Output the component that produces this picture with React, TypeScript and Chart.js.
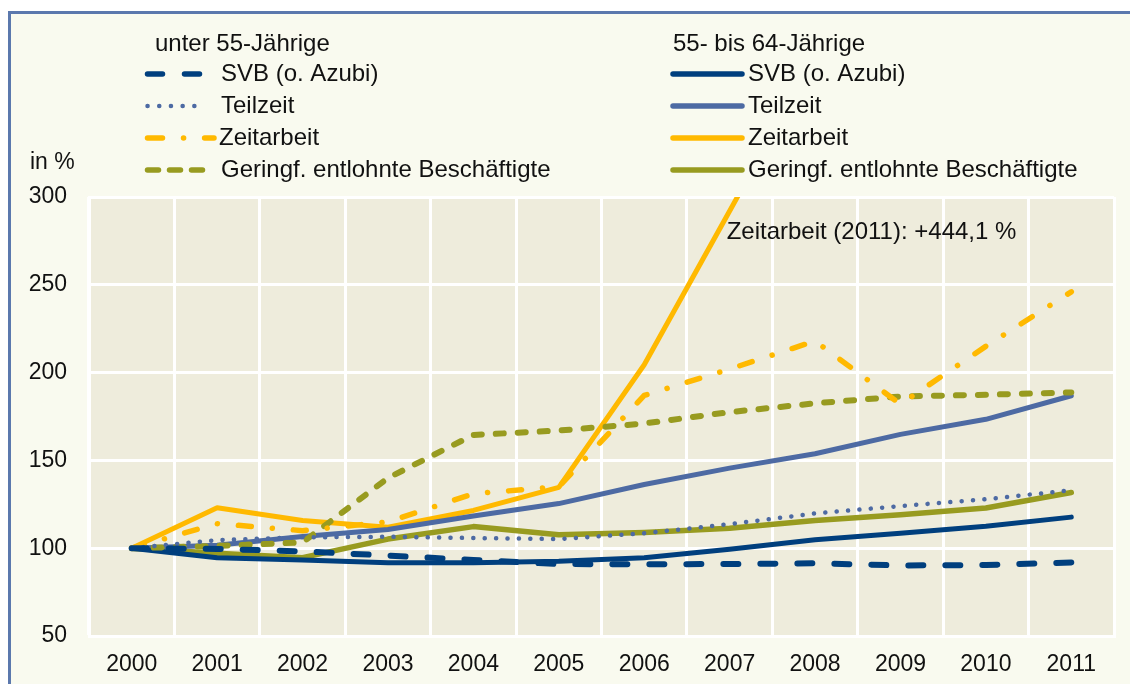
import React, { useEffect, useRef } from 'react';
import { Chart, registerables } from 'chart.js';

Chart.register(...registerables);

const years = ['2000', '2001', '2002', '2003', '2004', '2005', '2006', '2007', '2008', '2009', '2010', '2011'];
const yMin = 50;
const yMax = 300;
const yStep = 50;

// unter 55-Jährige
const u55Svb = [100, 99.6, 98.2, 95.8, 93.3, 91.0, 90.8, 91.0, 91.4, 90.2, 90.4, 91.9];
const u55Teilzeit = [100, 104.6, 106.2, 106.5, 105.8, 105.2, 108.5, 113.7, 119.8, 124.0, 127.9, 133.0];
const u55Zeitarbeit = [100, 114, 110, 115, 131, 135, 187, 202, 218, 182, 215, 246];
const u55Geringf = [100, 101.3, 103.3, 140, 164.5, 167, 171, 177.5, 182.5, 186.4, 187.4, 188.7];

// 55- bis 64-Jährige
const a55Svb = [100, 94.6, 93.3, 91.7, 91.7, 92.5, 94.6, 99.4, 104.8, 108.5, 112.5, 117.7];
const a55Teilzeit = [100, 101.7, 106.7, 110.6, 118.3, 125.4, 136.3, 145.6, 153.8, 164.8, 173.4, 186.8];
const a55Zeitarbeit = [100, 123, 115.8, 111.9, 121.5, 134.6, 204.5, 292, 380, 330, 440, 544.1];
const a55Geringf = [100, 97.1, 94.6, 105.2, 112.3, 107.7, 109, 111.3, 115.8, 119, 122.9, 131.7];

const colSvb = '#003f7e';
const colTeil = '#4d6aa3';
const colZeit = '#ffb900';
const colGer = '#989b20';

const groupLeft = 'unter 55-Jährige';
const groupRight = '55- bis 64-Jährige';
const seriesNames = ['SVB (o. Azubi)', 'Teilzeit', 'Zeitarbeit', 'Geringf. entlohnte Beschäftigte'];

const FONT = '"Liberation Sans", Arial, sans-serif';

type Style = { color: string; width: number; dash: number[] };

const leftStyles: Style[] = [
  { color: colSvb, width: 6, dash: [15, 22] },
  { color: colTeil, width: 4.5, dash: [0.1, 11.3] },
  { color: colZeit, width: 5.5, dash: [13, 21, 0.1, 21] },
  { color: colGer, width: 6, dash: [8, 14] },
];
const leftLegendDash = [[15, 22], [0.1, 11.6], [15, 21, 0.1, 21], [11, 11]];
const rightStyles: Style[] = [
  { color: colSvb, width: 5, dash: [] },
  { color: colTeil, width: 5, dash: [] },
  { color: colZeit, width: 5, dash: [] },
  { color: colGer, width: 5.5, dash: [] },
];

const leftData = [u55Svb, u55Teilzeit, u55Zeitarbeit, u55Geringf];
const rightData = [a55Svb, a55Teilzeit, a55Zeitarbeit, a55Geringf];

const overlayPlugin = {
  id: 'overlay',
  beforeDraw(chart: any) {
    const { ctx, chartArea } = chart;
    ctx.save();
    ctx.fillStyle = '#eeecdc';
    ctx.fillRect(chartArea.left, chartArea.top, chartArea.right - chartArea.left, chartArea.bottom - chartArea.top);
    ctx.restore();
  },
  afterDraw(chart: any) {
    const { ctx } = chart;
    ctx.save();
    ctx.fillStyle = '#111';
    ctx.textBaseline = 'middle';
    ctx.textAlign = 'left';
    ctx.font = `23px ${FONT}`;
    // y axis unit
    ctx.fillText('in %', 30, 163);
    ctx.font = `24px ${FONT}`;
    // legend headers
    ctx.fillText(groupLeft, 155, 44);
    ctx.fillText(groupRight, 673, 44);
    const rows = [74, 106, 138, 170];
    rows.forEach((y, i) => {
      // left sample
      const ls = leftStyles[i];
      ctx.save();
      ctx.strokeStyle = ls.color;
      ctx.lineWidth = i === 1 ? 4.5 : 5.5;
      ctx.lineCap = 'round';
      ctx.setLineDash(leftLegendDash[i]);
      ctx.beginPath();
      ctx.moveTo(147.5, y);
      ctx.lineTo(i === 2 ? 214 : 205, y);
      ctx.stroke();
      ctx.restore();
      ctx.fillText(seriesNames[i], i === 2 ? 219 : 221, y);
      // right sample
      const rs = rightStyles[i];
      ctx.save();
      ctx.strokeStyle = rs.color;
      ctx.lineWidth = 5.5;
      ctx.lineCap = 'round';
      ctx.beginPath();
      ctx.moveTo(673, y);
      ctx.lineTo(742, y);
      ctx.stroke();
      ctx.restore();
      ctx.fillText(seriesNames[i], 748, y);
    });
    // annotation
    const xs = chart.scales.x;
    const ys = chart.scales.y;
    const last = a55Zeitarbeit[a55Zeitarbeit.length - 1];
    const txt = `Zeitarbeit (${years[years.length - 1]}): +${(last - 100).toFixed(1).replace('.', ',')} %`;
    ctx.fillText(txt, xs.getPixelForValue(7) - 3, ys.getPixelForValue(280));
    ctx.restore();
  },
};

export default function App() {
  const ref = useRef<HTMLCanvasElement | null>(null);
  useEffect(() => {
    if (!ref.current) return;
    const datasets: any[] = [];
    leftData.forEach((d, i) => {
      const s = leftStyles[i];
      datasets.push({
        label: `${groupLeft} ${seriesNames[i]}`,
        data: d,
        borderColor: s.color,
        backgroundColor: s.color,
        borderWidth: s.width,
        borderDash: s.dash,
        borderCapStyle: 'round',
        borderJoinStyle: 'round',
        pointRadius: 0,
        tension: 0,
        clip: 0,
      });
    });
    rightData.forEach((d, i) => {
      const s = rightStyles[i];
      datasets.push({
        label: `${groupRight} ${seriesNames[i]}`,
        data: d,
        borderColor: s.color,
        backgroundColor: s.color,
        borderWidth: s.width,
        borderDash: s.dash,
        borderCapStyle: 'round',
        borderJoinStyle: 'round',
        pointRadius: 0,
        tension: 0,
        clip: 0,
      });
    });
    const chart = new Chart(ref.current, {
      type: 'line',
      data: { labels: years, datasets },
      plugins: [overlayPlugin],
      options: {
        responsive: false,
        animation: false,
        devicePixelRatio: 1,
        layout: { padding: { top: 197, right: 16, left: 0, bottom: 0 } },
        plugins: { legend: { display: false }, tooltip: { enabled: false }, title: { display: false } },
        scales: {
          x: {
            type: 'category',
            offset: true,
            grid: { offset: true, color: '#ffffff', lineWidth: 3, drawTicks: false },
            border: { color: '#ffffff', width: 3 },
            ticks: { color: '#111', font: { family: FONT, size: 23 }, padding: 15, maxRotation: 0, autoSkip: false },
            afterFit: (s: any) => { s.height = 48; },
          },
          y: {
            min: yMin,
            max: yMax,
            ticks: { stepSize: yStep, color: '#111', font: { family: FONT, size: 23 }, padding: 22 },
            grid: { color: '#ffffff', lineWidth: 3, drawTicks: false },
            border: { color: '#ffffff', width: 3 },
            afterFit: (s: any) => { s.width = 89; },
          },
        },
      },
    });
    return () => chart.destroy();
  }, []);

  return (
    <div style={{ position: 'fixed', left: 0, top: 0, width: 1130, height: 684, background: '#ffffff', overflow: 'hidden' }}>
      <div
        style={{
          position: 'absolute',
          left: 8,
          top: 11,
          right: 0,
          bottom: 0,
          background: '#f9faef',
          borderLeft: '3px solid #5b78ad',
          borderTop: '3px solid #5b78ad',
        }}
      />
      <canvas ref={ref} width={1130} height={684} style={{ position: 'absolute', left: 0, top: 0, width: 1130, height: 684 }} />
    </div>
  );
}
